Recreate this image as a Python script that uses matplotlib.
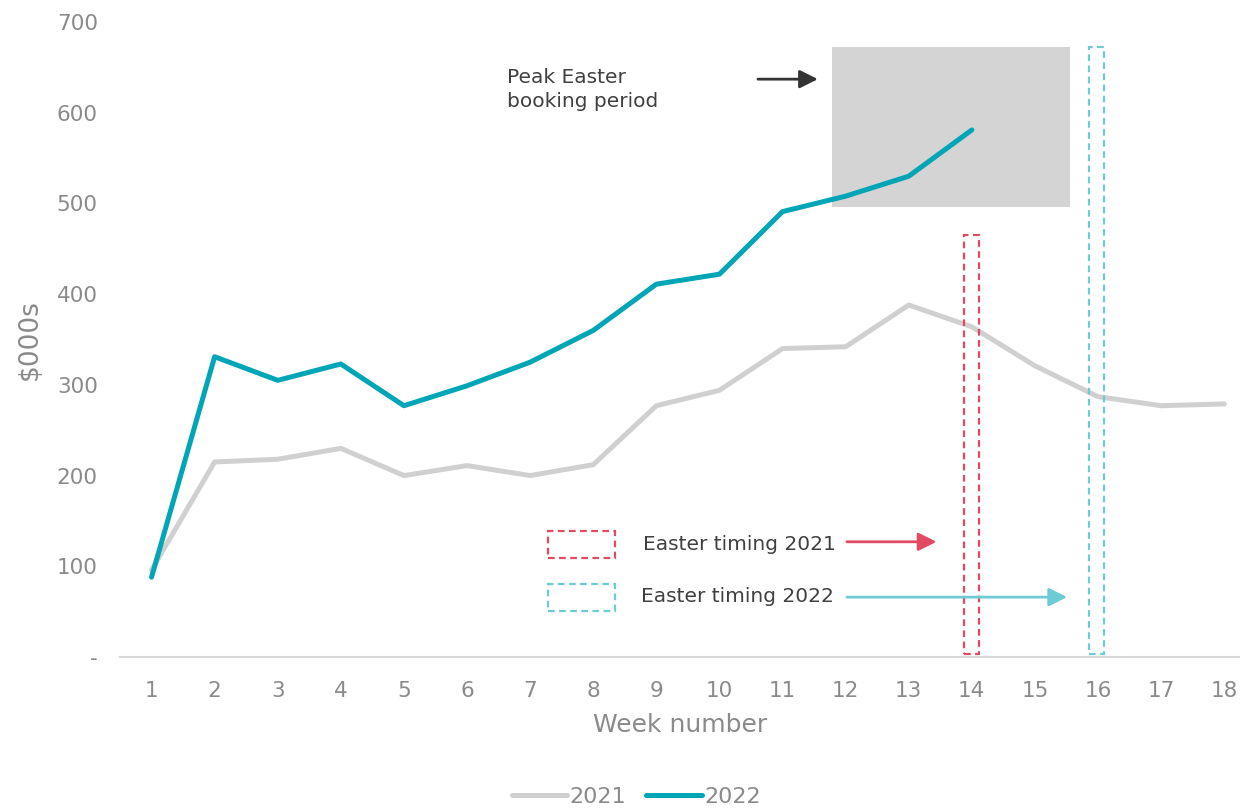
import matplotlib
matplotlib.use("Agg")
import matplotlib.pyplot as plt
from matplotlib.patches import Rectangle, FancyArrowPatch

plt.rcParams['font.family'] = ['DejaVu Sans']

weeks_2021 = list(range(1, 19))
sales_2021 = [96, 215, 218, 230, 200, 211, 200, 212, 277, 294, 340, 342, 388, 364, 321, 287, 277, 279]
weeks_2022 = list(range(1, 15))
sales_2022 = [88, 331, 305, 323, 277, 299, 325, 360, 411, 422, 491, 508, 530, 581]
x_ticks = list(range(1, 19))
y_ticks = [0, 100, 200, 300, 400, 500, 600, 700]
y_tick_labels = ['-', '100', '200', '300', '400', '500', '600', '700']

c2021 = '#d0d0d0'
c2022 = '#00a6b6'
cred = '#e04a62'
ccyan = '#6ccbd4'
tick_col = '#8a8a8a'
text_col = '#404040'

fig = plt.figure(figsize=(12.4, 8.08), dpi=100)
ax = fig.add_axes([120/1240, (808-657)/808, 1120/1240, 635/808])

ax.plot(weeks_2021, sales_2021, color=c2021, lw=3.6, solid_capstyle='round', solid_joinstyle='round', label='2021', zorder=3)
ax.plot(weeks_2022, sales_2022, color=c2022, lw=3.6, solid_capstyle='round', solid_joinstyle='round', label='2022', zorder=4)

ax.set_xlim(0.5, 18.25)
ax.set_ylim(0, 700)

# peak Easter booking period box
ax.add_patch(Rectangle((11.78, 496), 15.55 - 11.78, 672 - 496, facecolor='#d4d4d4', edgecolor='none', zorder=1))

# Easter timing boxes
ax.add_patch(Rectangle((13.88, 3), 0.24, 462, facecolor='none', edgecolor=cred, lw=1.6, ls=(0, (3, 2)), zorder=5))
ax.add_patch(Rectangle((15.86, 3), 0.24, 669, facecolor='none', edgecolor=ccyan, lw=1.6, ls=(0, (3, 2)), zorder=5))

# legend-like boxes
ax.add_patch(Rectangle((7.28, 109), 1.06, 30, facecolor='none', edgecolor=cred, lw=1.6, ls=(0, (3, 2)), zorder=5, clip_on=False))
ax.add_patch(Rectangle((7.28, 51), 1.06, 30, facecolor='none', edgecolor=ccyan, lw=1.6, ls=(0, (3, 2)), zorder=5, clip_on=False))

ax.text(8.79, 124, 'Easter timing 2021', fontsize=14.5, color=text_col, va='center', ha='left')
ax.text(8.75, 67, 'Easter timing 2022', fontsize=14.5, color=text_col, va='center', ha='left')

astyle = '-|>,head_length=11,head_width=5.5'
ax.add_patch(FancyArrowPatch((12.02, 127), (13.44, 127), arrowstyle=astyle, color=cred, lw=2,
                             mutation_scale=1, shrinkA=0, shrinkB=0, zorder=6))
ax.add_patch(FancyArrowPatch((12.02, 66), (15.51, 66), arrowstyle=astyle, color=ccyan, lw=2,
                             mutation_scale=1, shrinkA=0, shrinkB=0, zorder=6))
ax.add_patch(FancyArrowPatch((10.61, 637), (11.56, 637), arrowstyle=astyle, color='#333333', lw=2,
                             mutation_scale=1, shrinkA=0, shrinkB=0, zorder=6))

ax.text(6.63, 626, 'Peak Easter\nbooking period', fontsize=14.5, color=text_col, va='center', ha='left', linespacing=1.35)

ax.set_xticks(x_ticks)
ax.set_xticklabels([str(w) for w in x_ticks])
ax.set_yticks(y_ticks)
ax.set_yticklabels(y_tick_labels)
ax.tick_params(axis='both', length=0, labelsize=15.5, colors=tick_col)
ax.tick_params(axis='x', pad=17)
ax.tick_params(axis='y', pad=16)

for s in ['top', 'right', 'left']:
    ax.spines[s].set_visible(False)
ax.spines['bottom'].set_color('#d9d9d9')
ax.spines['bottom'].set_linewidth(1.5)

ax.set_xlabel('Week number', fontsize=18, color=tick_col, labelpad=9)
ax.set_ylabel('$000s', fontsize=19, color=tick_col, labelpad=10)

leg = fig.legend(loc='center', bbox_to_anchor=(0.513, 0.014), ncol=2, frameon=False,
                 fontsize=16, handlelength=2.5, handletextpad=0.1, columnspacing=0.9,
                 labelcolor=tick_col)

fig.savefig('out.png', dpi=100)
